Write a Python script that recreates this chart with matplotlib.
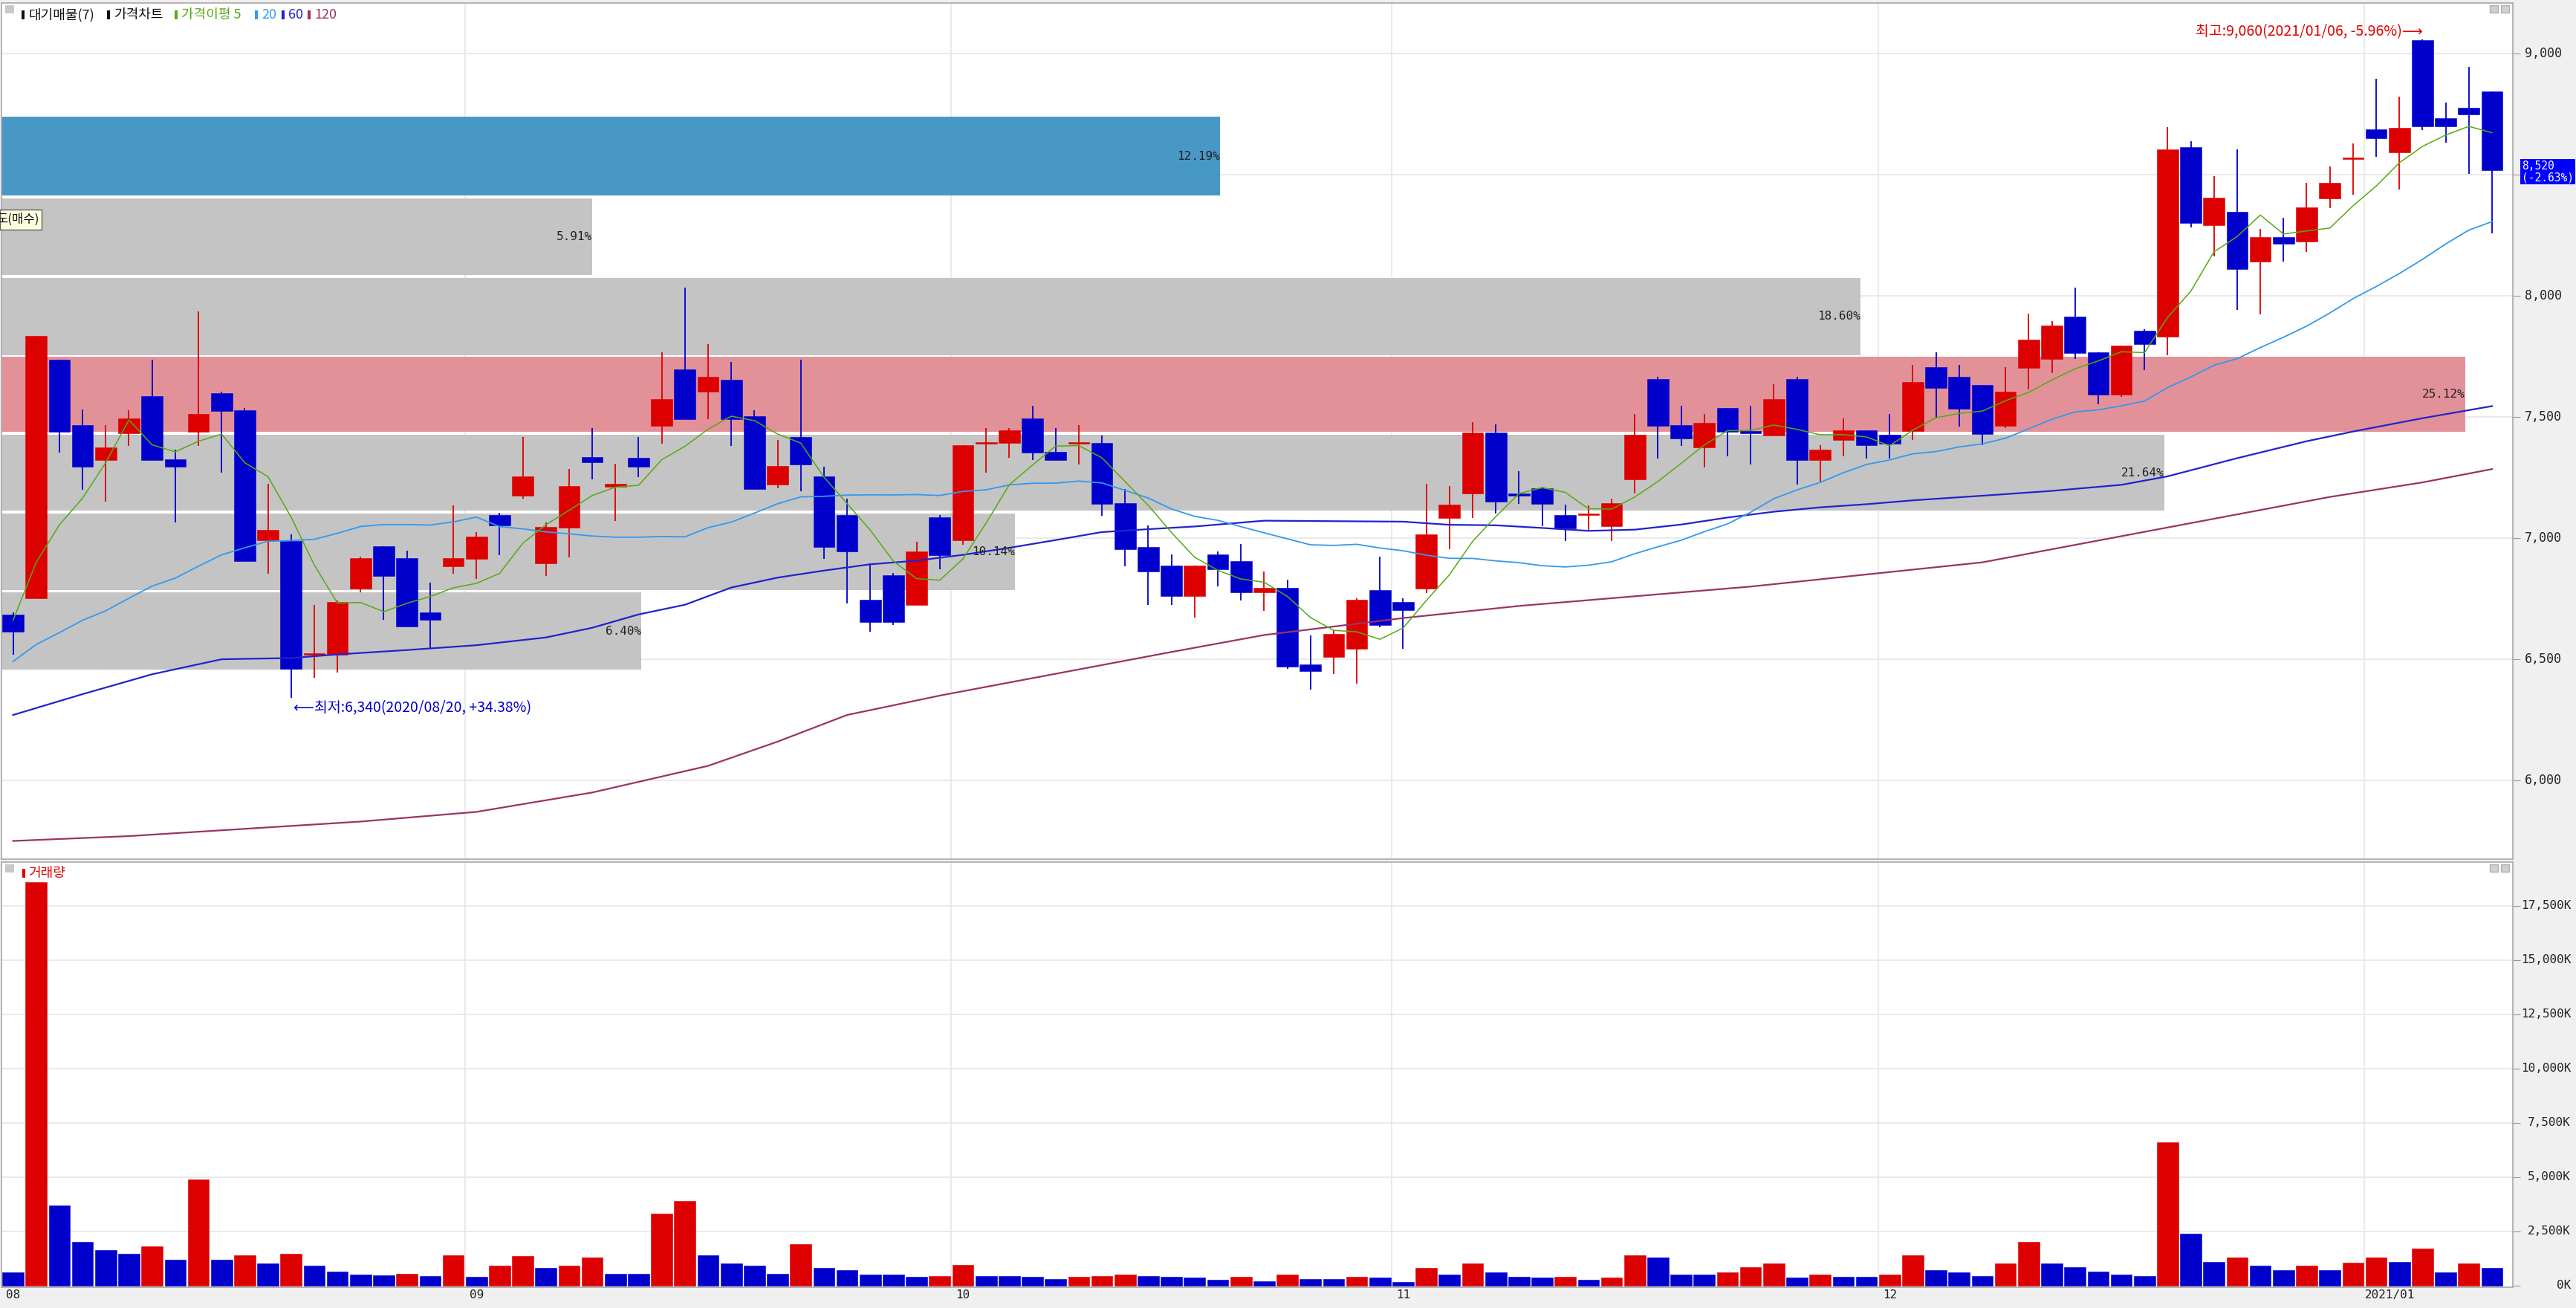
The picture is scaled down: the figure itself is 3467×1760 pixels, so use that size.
import numpy as np
import pandas as pd
import matplotlib
matplotlib.use('Agg')
import matplotlib.pyplot as plt
import matplotlib.transforms as mtransforms
from matplotlib.patches import Rectangle

plt.rcParams['font.family'] = ['Noto Sans CJK KR', 'DejaVu Sans']
MONO = ['DejaVu Sans Mono', 'Noto Sans CJK KR']

#----------------------------------------
# daily candles 2020/08/03 ~ 2021/01/11
opens = [6684, 6751, 7735, 7468, 7322, 7433, 7586, 7324, 7440, 7597,
         7527, 6990, 6987, 6520, 6520, 6793, 6966, 6916, 6694, 6884,
         6913, 7095, 7175, 6896, 7042, 7336, 7213, 7332, 7465, 7698,
         7604, 7655, 7504, 7221, 7416, 7256, 7095, 6745, 6846, 6723,
         7086, 6992, 7390, 7392, 7494, 7357, 7390, 7392, 7144, 6964,
         6886, 6761, 6933, 6905, 6775, 6795, 6480, 6510, 6543, 6786,
         6736, 6792, 7082, 7183, 7435, 7185, 7205, 7095, 7095, 7050,
         7244, 7657, 7467, 7373, 7537, 7443, 7424, 7657, 7323, 7405,
         7444, 7426, 7443, 7707, 7666, 7633, 7464, 7703, 7740, 7915,
         7766, 7593, 7856, 7832, 8613, 8291, 8347, 8141, 8244, 8223,
         8403, 8566, 8687, 8591, 9055, 8732, 8775, 8843]
highs = [6694, 7835, 7735, 7530, 7468, 7527, 7735, 7365, 7937, 7606,
         7536, 7224, 7015, 6725, 6743, 6925, 6968, 6948, 6816, 7136,
         7025, 7105, 7416, 7066, 7285, 7453, 7306, 7416, 7768, 8034,
         7802, 7726, 7527, 7406, 7735, 7295, 7162, 6896, 6855, 6984,
         7095, 7384, 7453, 7453, 7545, 7453, 7467, 7424, 7203, 7051,
         6933, 6886, 6946, 6975, 6863, 6827, 6598, 6622, 6751, 6925,
         6753, 7224, 7215, 7479, 7469, 7276, 7211, 7138, 7135, 7164,
         7514, 7666, 7546, 7514, 7537, 7546, 7634, 7666, 7385, 7494,
         7444, 7514, 7715, 7766, 7715, 7633, 7707, 7928, 7897, 8033,
         7766, 7795, 7863, 8696, 8637, 8493, 8605, 8276, 8323, 8466,
         8534, 8628, 8895, 8824, 9060, 8799, 8945, 8843]
lows = [6520, 6751, 7353, 7201, 7152, 7380, 7322, 7064, 7380, 7271,
        6904, 6852, 6340, 6424, 6444, 6775, 6664, 6634, 6543, 6852,
        6833, 6931, 7162, 6843, 6919, 7242, 7072, 7251, 7391, 7492,
        7492, 7380, 7203, 7207, 7193, 6913, 6731, 6614, 6641, 6723,
        6872, 6974, 7271, 7332, 7322, 7322, 7304, 7092, 6884, 6723,
        6723, 6673, 6802, 6743, 6700, 6460, 6375, 6440, 6400, 6633,
        6543, 6774, 6953, 7083, 7101, 7142, 7050, 6989, 7030, 6989,
        7183, 7330, 7381, 7293, 7338, 7303, 7424, 7221, 7232, 7338,
        7330, 7330, 7404, 7495, 7460, 7384, 7454, 7613, 7681, 7740,
        7551, 7583, 7695, 7754, 8282, 8162, 7942, 7924, 8141, 8182,
        8362, 8419, 8573, 8438, 8685, 8632, 8503, 8259]
closes = [6614, 7835, 7440, 7295, 7375, 7494, 7322, 7295, 7512, 7524,
          6904, 7034, 6461, 6525, 6735, 6916, 6845, 6634, 6664, 6916,
          7007, 7051, 7256, 7045, 7215, 7312, 7224, 7295, 7573, 7492,
          7665, 7492, 7203, 7297, 7304, 6964, 6945, 6655, 6655, 6946,
          6931, 7384, 7395, 7445, 7353, 7322, 7395, 7142, 6954, 6863,
          6761, 6886, 6872, 6775, 6796, 6469, 6450, 6606, 6745, 6642,
          6702, 7017, 7138, 7435, 7152, 7176, 7142, 7039, 7098, 7144,
          7426, 7463, 7412, 7477, 7440, 7432, 7573, 7323, 7365, 7444,
          7383, 7391, 7646, 7621, 7533, 7431, 7605, 7818, 7877, 7763,
          7593, 7795, 7801, 8605, 8302, 8405, 8112, 8244, 8214, 8364,
          8466, 8570, 8652, 8695, 8701, 8701, 8750, 8520]
# 거래량 (K)
volumes = [600, 18600, 3700, 2000, 1650, 1450, 1800, 1200, 4900, 1200,
           1400, 1000, 1450, 900, 650, 500, 480, 550, 450, 1400,
           400, 900, 1350, 800, 900, 1300, 550, 540, 3300, 3900,
           1400, 1000, 900, 550, 1900, 800, 700, 500, 490, 400,
           450, 950, 450, 440, 400, 300, 400, 450, 500, 450,
           400, 350, 250, 400, 200, 500, 300, 290, 400, 350,
           150, 800, 500, 1000, 600, 400, 350, 400, 250, 350,
           1400, 1300, 500, 490, 600, 850, 1000, 350, 500, 400,
           390, 500, 1400, 700, 600, 450, 1000, 2000, 1000, 850,
           650, 500, 450, 6600, 2400, 1100, 1300, 900, 700, 900,
           700, 1050, 1300, 1100, 1700, 600, 1000, 800]

ma5_head = [6661, 6900, 7055, 7165]
ma20_head = [6491, 6561, 6610, 6661, 6700, 6752, 6802, 6835, 6884, 6931,
             6960, 6987, 6990, 6995, 7020, 7048, 7056, 7056, 7054]
ma60_idx = [0, 3, 6, 9, 12, 14, 17, 20, 23, 25, 27, 29, 31, 33, 35, 37, 39, 41, 43, 45,
            47, 49, 51, 54, 57, 60, 62, 64, 66, 68, 70, 72, 74, 76, 78, 80, 82, 85, 88, 91,
            93, 96, 99, 101, 104, 107]
ma60_val = [6270, 6356, 6438, 6500, 6505, 6520, 6538, 6558, 6590, 6630, 6685, 6725, 6796, 6837,
            6866, 6892, 6907, 6931, 6960, 6992, 7025, 7037, 7048, 7072, 7070, 7068, 7055, 7053,
            7042, 7030, 7035, 7056, 7085, 7109, 7127, 7140, 7156, 7175, 7195, 7220, 7255, 7330,
            7400, 7440, 7495, 7545]
ma120_idx = [0, 5, 10, 15, 20, 25, 30, 33, 36, 40, 45, 50, 54, 60, 65, 70, 75, 80, 85, 90,
             95, 100, 104, 107]
ma120_val = [5750, 5770, 5800, 5830, 5870, 5950, 6060, 6160, 6270, 6350, 6440, 6530, 6600, 6670,
             6720, 6760, 6800, 6850, 6900, 6990, 7080, 7170, 7230, 7285]

# 대기매물 bands (bottom -> top)
band_lo = [6457, 6785, 7113, 7439, 7755, 8086, 8414]
band_hi = [6776, 7101, 7426, 7748, 8074, 8402, 8739]
band_pct = [6.40, 10.14, 21.64, 25.12, 18.60, 5.91, 12.19]

month_idx = [0, 20, 41, 60, 81, 102]
month_lbl = ['08', '09', '10', '11', '12', '2021/01']
price_ticks = [6000, 6500, 7000, 7500, 8000, 8500, 9000]
vol_ticks = [0, 2500, 5000, 7500, 10000, 12500, 15000, 17500]
#----------------------------------------
RED = '#DD0000'
BLUE = '#0000CC'
W, H = 3467, 1760

fig = plt.figure(figsize=(W / 100, H / 100), dpi=100, facecolor='#F0F0F0')


def px(x, y, w, h):
    return [x / W, 1 - (y + h) / H, w / W, h / H]


def fig_rect(x, y, w, h, fc, ec='none'):
    fig.add_artist(Rectangle((x / W, 1 - (y + h) / H), w / W, h / H,
                             transform=fig.transFigure, fc=fc, ec=ec, lw=1))


ax = fig.add_axes(px(2, 4, 3380, 1152))
axv = fig.add_axes(px(2, 1160, 3380, 572), sharex=ax)

x = np.arange(len(closes))
o = np.array(opens)
c = np.array(closes)
col = np.where(c >= o, RED, BLUE)

# bands
trans = mtransforms.blended_transform_factory(ax.transAxes, ax.transData)
for lo, hi, pct in zip(band_lo, band_hi, band_pct):
    if lo <= closes[-1] <= hi:
        fc = '#4898C6'
    elif pct == max(band_pct):
        fc = '#E39199'
    else:
        fc = '#C4C4C4'
    w = min(pct * 0.0398, 0.981)
    ax.add_patch(Rectangle((0, lo), w, hi - lo, transform=trans, fc=fc, ec='none', zorder=1))
    ax.text(w, (lo + hi) / 2, f'{pct:.2f}%', transform=trans, ha='right', va='center',
            fontsize=11.5, family=MONO, color='#222222', zorder=7)

# grid
for t in price_ticks:
    ax.axhline(t, color='#E6E6E6', lw=1.2, zorder=0)
for t in vol_ticks[1:]:
    axv.axhline(t, color='#E6E6E6', lw=1.2, zorder=0)
for m in month_idx[1:]:
    ax.axvline(m - 0.5, color='#E6E6E6', lw=1.2, zorder=0)
    axv.axvline(m - 0.5, color='#E6E6E6', lw=1.2, zorder=0)

# candles
ax.vlines(x, lows, highs, colors=col, lw=1.3, zorder=3)
ax.bar(x, np.maximum(np.abs(c - o), 6), bottom=np.minimum(o, c), width=0.92,
       color=col, edgecolor=col, lw=0.4, zorder=4)

# moving averages
cs = pd.Series(closes, dtype=float)
ma5 = cs.rolling(5).mean().to_numpy()
ma5[:4] = ma5_head
ma20 = cs.rolling(20).mean().to_numpy()
ma20[:19] = ma20_head
ax.plot(ma120_idx, ma120_val, color='#993366', lw=1.6, zorder=5)
ax.plot(ma60_idx, ma60_val, color='#2222CC', lw=1.6, zorder=5)
ax.plot(x, ma20, color='#3399EE', lw=1.3, zorder=5)
ax.plot(x, ma5, color='#55AA11', lw=1.1, zorder=5)

# high / low notes
ax.text(104, 9089, '최고:9,060(2021/01/06, -5.96%)⟶', color='#E00000', fontsize=14,
        ha='right', va='center', zorder=8)
ax.text(12.1, 6300, '⟵최저:6,340(2020/08/20, +34.38%)', color='#0000CC', fontsize=14,
        ha='left', va='center', zorder=8)

ax.set_xlim(-0.5, 107.9)
ax.set_ylim(5675, 9209)
ax.set_yticks(price_ticks)
ax.yaxis.tick_right()
ax.tick_params(axis='y', length=7, color='#999999', labelright=False)
ax.tick_params(axis='x', bottom=False, labelbottom=False)
for t in price_ticks:
    if abs(t - closes[-1]) > 150:
        ax.text(1.0047, t, f'{t:,}', transform=trans, ha='left', va='center',
                fontsize=12, family=MONO, color='#222222', clip_on=False)

# current price box
ax.text(1.0036, 8560, f'{closes[-1]:,}\n(-2.63%)', transform=trans, ha='left', va='top',
        color='white', fontsize=10.5, family=MONO, linespacing=1.05, clip_on=False, zorder=10,
        bbox=dict(boxstyle='square,pad=0.12', fc='#0000FF', ec='none'))

# volume
vcol = [BLUE] + [RED if volumes[i] > volumes[i - 1] else BLUE for i in range(1, len(volumes))]
axv.bar(x, volumes, width=0.92, color=vcol, edgecolor=vcol, lw=0.4, zorder=3)
axv.set_ylim(-80, 19520)
axv.set_yticks(vol_ticks)
axv.yaxis.tick_right()
axv.tick_params(axis='y', length=7, color='#999999', labelright=False)
axv.tick_params(axis='x', bottom=False, labelbottom=False)
vtrans = mtransforms.blended_transform_factory(axv.transAxes, axv.transData)
for t in vol_ticks:
    axv.text(1.0231, t, f'{t:,}K', transform=vtrans, ha='right', va='center',
             fontsize=11.5, family=MONO, color='#222222', clip_on=False)

mtrans = mtransforms.blended_transform_factory(axv.transData, axv.transAxes)
for m, lb in zip(month_idx, month_lbl):
    if len(lb) > 2:
        axv.text(m - 0.5, -0.019, lb, transform=mtrans, ha='left', va='center',
                 fontsize=11.5, family=MONO, color='#222222', clip_on=False)
    else:
        axv.text(m, -0.019, lb, transform=mtrans, ha='center', va='center',
                 fontsize=11.5, family=MONO, color='#222222', clip_on=False)

for a in (ax, axv):
    a.set_facecolor('white')
    for s in a.spines.values():
        s.set_color('#A8A8A8')
        s.set_linewidth(1.2)

#----------------------------------------
# legends / small window decorations
legend_bits = [('대기매물(7)', '#111111', 38), ('가격차트', '#111111', 153),
               ('가격이평 5', '#55AA11', 244), ('20', '#3399EE', 352),
               ('60', '#2222CC', 388), ('120', '#993366', 423)]
for txt, cl, xp in legend_bits:
    fig_rect(xp - 9, 14, 4, 12, cl)
    fig.text(xp / W, 1 - 20 / H, txt, color=cl, fontsize=13, ha='left', va='center')
fig_rect(30, 1169, 4, 12, RED)
fig.text(38 / W, 1 - 1175 / H, '거래량', color=RED, fontsize=13, ha='left', va='center')

for yy in (7, 1163):
    fig_rect(7, yy, 12, 11, '#C8C8C8')
    fig_rect(3351, yy, 11, 10, '#D0D0D0', '#B0B0B0')
    fig_rect(3366, yy, 11, 10, '#D0D0D0', '#B0B0B0')

fig_rect(0, 282, 56, 27, '#FFFFE1', '#606060')
fig.text(53 / W, 1 - 295.5 / H, '도(매수)', fontsize=12, ha='right', va='center', color='#111111')

fig.savefig('out.png', dpi=100, facecolor=fig.get_facecolor())
